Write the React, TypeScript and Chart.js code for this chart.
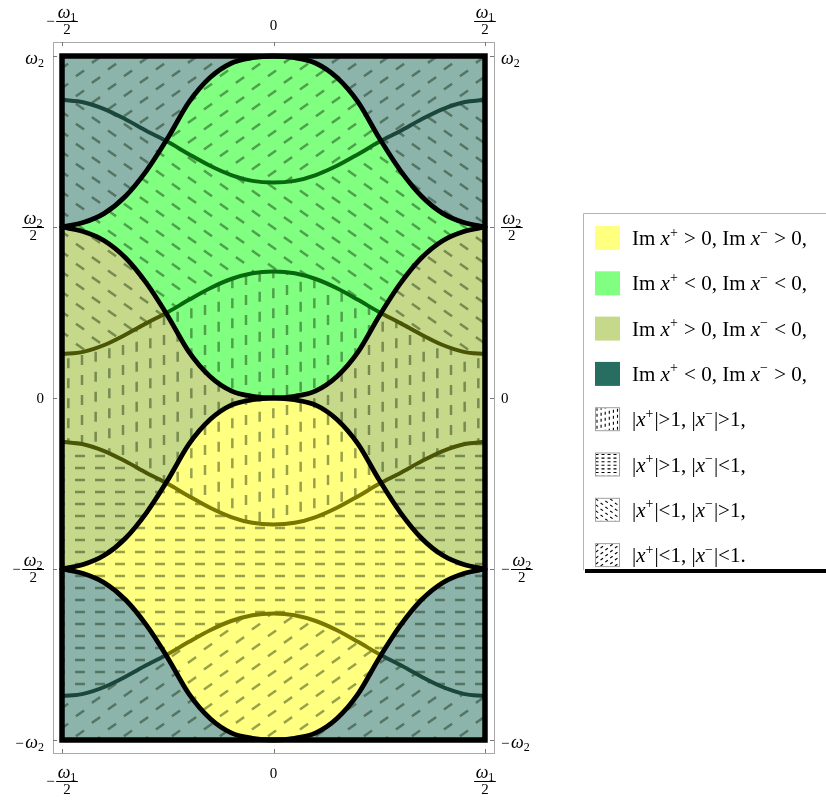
import React, { useEffect, useRef } from "react";
import { Chart, registerables } from "chart.js";

Chart.register(...registerables);

// ---- data (x in units of ω1, y in units of ω2) ----
const X_POS = [-0.5, -0.45, -0.4, -0.35, -0.3, -0.25, -0.2, -0.15, -0.1, -0.05, 0, 0.05, 0.1, 0.15, 0.2, 0.25, 0.3, 0.35, 0.4, 0.45, 0.5];

const FRAME_TOP = [1, 1, 1, 1, 1, 1, 1, 1, 1, 1, 1, 1, 1, 1, 1, 1, 1, 1, 1, 1, 1];
const FRAME_BOTTOM = [-1, -1, -1, -1, -1, -1, -1, -1, -1, -1, -1, -1, -1, -1, -1, -1, -1, -1, -1, -1, -1];

// black boundaries (Im x± = 0)
const GREEN_TOP = [0.5, 0.513, 0.54, 0.59, 0.665, 0.76, 0.865, 0.937, 0.979, 0.995, 1.0, 0.995, 0.979, 0.937, 0.865, 0.76, 0.665, 0.59, 0.54, 0.513, 0.5];
const GREEN_BOTTOM = [0.5, 0.487, 0.46, 0.41, 0.335, 0.24, 0.135, 0.063, 0.021, 0.005, 0, 0.005, 0.021, 0.063, 0.135, 0.24, 0.335, 0.41, 0.46, 0.487, 0.5];
const YELLOW_TOP = [-0.5, -0.487, -0.46, -0.41, -0.335, -0.24, -0.135, -0.063, -0.021, -0.005, 0, -0.005, -0.021, -0.063, -0.135, -0.24, -0.335, -0.41, -0.46, -0.487, -0.5];
const YELLOW_BOTTOM = [-0.5, -0.513, -0.54, -0.59, -0.665, -0.76, -0.865, -0.937, -0.979, -0.995, -1.0, -0.995, -0.979, -0.937, -0.865, -0.76, -0.665, -0.59, -0.54, -0.513, -0.5];

// dark curves (|x±| = 1)
const MOD_1 = [0.872, 0.865, 0.845, 0.815, 0.781, 0.749, 0.713, 0.679, 0.652, 0.635, 0.63, 0.635, 0.652, 0.679, 0.713, 0.749, 0.781, 0.815, 0.845, 0.865, 0.872];
const MOD_2 = [0.128, 0.135, 0.155, 0.185, 0.219, 0.251, 0.287, 0.321, 0.348, 0.365, 0.37, 0.365, 0.348, 0.321, 0.287, 0.251, 0.219, 0.185, 0.155, 0.135, 0.128];
const MOD_3 = [-0.128, -0.135, -0.155, -0.185, -0.219, -0.251, -0.287, -0.321, -0.348, -0.365, -0.37, -0.365, -0.348, -0.321, -0.287, -0.251, -0.219, -0.185, -0.155, -0.135, -0.128];
const MOD_4 = [-0.872, -0.865, -0.845, -0.815, -0.781, -0.749, -0.713, -0.679, -0.652, -0.635, -0.63, -0.635, -0.652, -0.679, -0.713, -0.749, -0.781, -0.815, -0.845, -0.865, -0.872];
const CROSS_X = 0.2525;

const X_TICKS = [-0.5, 0, 0.5];
const X_TICK_LABELS = ["−ω1/2", "0", "ω1/2"];
const Y_TICKS = [1, 0.5, 0, -0.5, -1];
const Y_TICK_LABELS = ["ω2", "ω2/2", "0", "−ω2/2", "−ω2"];

const LEGEND_COLOR_LABELS = [
  ["Im ", "x", "+", " > 0, Im ", "x", "−", " > 0,"],
  ["Im ", "x", "+", " < 0, Im ", "x", "−", " < 0,"],
  ["Im ", "x", "+", " > 0, Im ", "x", "−", " < 0,"],
  ["Im ", "x", "+", " < 0, Im ", "x", "−", " > 0,"],
];
const LEGEND_HATCH_LABELS = [
  ["|", "x", "+", "|>1, |", "x", "−", "|>1,"],
  ["|", "x", "+", "|>1, |", "x", "−", "|<1,"],
  ["|", "x", "+", "|<1, |", "x", "−", "|>1,"],
  ["|", "x", "+", "|<1, |", "x", "−", "|<1."],
];

// ---- styles ----
const C_TEAL = "#8cb4aa";
const C_GREEN = "#80ff80";
const C_OLIVE = "#c6d98a";
const C_YELLOW = "#ffff80";
const LEGEND_SWATCHES = ["#ffff80", "#80ff80", "#c6d98a", "#276e60"];
const DARK_TEAL = "#1b463c";
const DARK_GREEN = "#08680f";
const DARK_OLIVE = "#4a5606";
const DARK_YELLOW = "#7a7700";
const HATCH_COLOR = "rgba(10,30,0,0.42)";
const SERIF = '"Liberation Serif", "Times New Roman", serif';

type Kind = "up" | "down" | "vert" | "horz";
const HATCH_GEOM: Record<Kind, { ax: number; ay: number; by: number; tileW: number; dx: number; dy: number; len: number }> = {
  up: { ax: 16, ay: 6.6667, by: 20, tileW: 48, dx: 0.82, dy: -0.57, len: 10 },
  down: { ax: 16, ay: -6.6667, by: 20, tileW: 48, dx: 0.82, dy: 0.57, len: 10 },
  vert: { ax: 13.6667, ay: -3.3333, by: 20, tileW: 82, dx: 0, dy: 1, len: 10 },
  horz: { ax: 20, ay: 0, by: 12, tileW: 20, dx: 1, dy: 0, len: 10 },
};
const LEGEND_KINDS: Kind[] = ["vert", "horz", "down", "up"];

function drawLattice(ctx: CanvasRenderingContext2D, kind: Kind, x0: number, y0: number, x1: number, y1: number, s: number, ox = 0, oy = 0) {
  const g = HATCH_GEOM[kind];
  const ax = g.ax * s, ay = g.ay * s, by = g.by * s, L = g.len * s;
  const mMin = Math.floor((x0 - ox - L) / ax) - 1;
  const mMax = Math.ceil((x1 - ox + L) / ax) + 1;
  ctx.beginPath();
  for (let m = mMin; m <= mMax; m++) {
    const px = ox + m * ax;
    const baseY = oy + m * ay;
    const kMin = Math.floor((y0 - L - baseY) / by) - 1;
    const kMax = Math.ceil((y1 + L - baseY) / by) + 1;
    for (let k = kMin; k <= kMax; k++) {
      const py = baseY + k * by;
      ctx.moveTo(px - (g.dx * L) / 2, py - (g.dy * L) / 2);
      ctx.lineTo(px + (g.dx * L) / 2, py + (g.dy * L) / 2);
    }
  }
  ctx.stroke();
}

function makePattern(kind: Kind): CanvasPattern | string {
  const g = HATCH_GEOM[kind];
  const c = document.createElement("canvas");
  c.width = Math.round(g.tileW);
  c.height = Math.round(g.by);
  const ctx = c.getContext("2d");
  if (!ctx) return "rgba(0,0,0,0)";
  ctx.strokeStyle = HATCH_COLOR;
  ctx.lineWidth = 2.5;
  ctx.lineCap = "butt";
  drawLattice(ctx, kind, 0, 0, c.width, c.height, 1);
  const p = ctx.createPattern(c, "repeat");
  return p || "rgba(0,0,0,0)";
}

function drawTickLabel(ctx: CanvasRenderingContext2D, label: string, ax: number, align: "left" | "right" | "center", barY: number, plainBaseline: number) {
  const neg = label.startsWith("−");
  const body = neg ? label.slice(1) : label;
  const [num, den] = body.split("/");
  const normal = `15px ${SERIF}`;
  const parts: { t: string; font: string; dy: number }[] = [];
  if (num.startsWith("ω")) {
    parts.push({ t: "ω", font: `italic 18px ${SERIF}`, dy: 0 });
    parts.push({ t: num.slice(1), font: `12px ${SERIF}`, dy: 3 });
  } else {
    parts.push({ t: num, font: normal, dy: 0 });
  }
  let numW = 0;
  parts.forEach((p) => {
    ctx.font = p.font;
    numW += ctx.measureText(p.t).width;
  });
  ctx.font = normal;
  const denW = den ? ctx.measureText(den).width : 0;
  const fracW = den ? Math.max(numW, denW) + 3 : numW;
  const signW = neg ? ctx.measureText("−").width + 1.5 : 0;
  const total = signW + fracW;
  const xs = align === "center" ? ax - total / 2 : align === "right" ? ax - total : ax;
  ctx.fillStyle = "#000";
  ctx.textAlign = "left";
  ctx.textBaseline = "alphabetic";
  const numBase = den ? barY - 3.5 : plainBaseline;
  if (neg) {
    ctx.font = normal;
    ctx.fillText("−", xs, den ? barY + 4.5 : plainBaseline);
  }
  let cx = xs + signW + (fracW - numW) / 2;
  parts.forEach((p) => {
    ctx.font = p.font;
    ctx.fillText(p.t, cx, numBase + p.dy);
    cx += ctx.measureText(p.t).width;
  });
  if (den) {
    ctx.font = normal;
    ctx.fillText(den, xs + signW + (fracW - denW) / 2, barY + 12.5);
    ctx.strokeStyle = "#000";
    ctx.lineWidth = 1;
    ctx.beginPath();
    ctx.moveTo(xs + signW, barY + 0.5);
    ctx.lineTo(xs + signW + fracW, barY + 0.5);
    ctx.stroke();
  }
}

function drawRich(ctx: CanvasRenderingContext2D, parts: string[], x: number, baseline: number) {
  let cx = x;
  ctx.fillStyle = "#000";
  ctx.textAlign = "left";
  ctx.textBaseline = "alphabetic";
  parts.forEach((t, i) => {
    const k = i % 3;
    ctx.font = k === 1 ? `italic 21px ${SERIF}` : k === 2 ? `14px ${SERIF}` : `21px ${SERIF}`;
    ctx.fillText(t, cx, k === 2 ? baseline - 8.5 : baseline);
    cx += ctx.measureText(t).width + (k === 2 ? 1 : 0);
  });
}

const decor = {
  id: "decor",
  afterDatasetsDraw(chart: any) {
    const ctx: CanvasRenderingContext2D = chart.ctx;
    const xs = chart.scales.x;
    const ys = chart.scales.y;
    const area = chart.chartArea;
    ctx.save();
    // thick black plot border
    const l = xs.getPixelForValue(-0.5), r = xs.getPixelForValue(0.5);
    const t = ys.getPixelForValue(1), b = ys.getPixelForValue(-1);
    ctx.strokeStyle = "#000";
    ctx.lineWidth = 5.5;
    ctx.lineJoin = "miter";
    ctx.strokeRect(l, t, r - l, b - t);
    // thin frame
    ctx.strokeStyle = "#a8a8a8";
    ctx.lineWidth = 1;
    ctx.strokeRect(Math.round(area.left) + 0.5, Math.round(area.top) + 0.5, Math.round(area.right - area.left), Math.round(area.bottom - area.top));
    ctx.strokeStyle = "#777";
    ctx.beginPath();
    X_TICKS.forEach((v) => {
      const px = Math.round(xs.getPixelForValue(v)) + 0.5;
      ctx.moveTo(px, area.top);
      ctx.lineTo(px, area.top + 4);
      ctx.moveTo(px, area.bottom);
      ctx.lineTo(px, area.bottom - 4);
    });
    Y_TICKS.forEach((v) => {
      const py = Math.round(ys.getPixelForValue(v)) + 0.5;
      ctx.moveTo(area.left, py);
      ctx.lineTo(area.left + 4, py);
      ctx.moveTo(area.right, py);
      ctx.lineTo(area.right - 4, py);
    });
    ctx.stroke();
    // tick labels
    X_TICKS.forEach((v, i) => {
      const px = xs.getPixelForValue(v);
      drawTickLabel(ctx, X_TICK_LABELS[i], px, "center", area.top - 21, area.top - 12);
      drawTickLabel(ctx, X_TICK_LABELS[i], px, "center", area.bottom + 28, area.bottom + 25);
    });
    Y_TICKS.forEach((v, i) => {
      const py = ys.getPixelForValue(v);
      const lab = Y_TICK_LABELS[i];
      const plain = py + (lab.includes("ω") ? 8 : 5);
      drawTickLabel(ctx, lab, area.left - 9, "right", py, plain);
      drawTickLabel(ctx, lab, area.right + 7, "left", py, plain);
    });
    // legend
    const lx = 583.5, ltop = 213.5, lbottom = 570;
    ctx.strokeStyle = "#b4b4b4";
    ctx.lineWidth = 1;
    ctx.beginPath();
    ctx.moveTo(lx, lbottom);
    ctx.lineTo(lx, ltop);
    ctx.lineTo(826, ltop);
    ctx.stroke();
    ctx.fillStyle = "#000";
    ctx.fillRect(585, lbottom - 1, 241, 4);
    const step = 45.3;
    LEGEND_COLOR_LABELS.forEach((parts, i) => {
      const cy = 238 + i * step;
      ctx.fillStyle = LEGEND_SWATCHES[i];
      ctx.fillRect(595, cy - 12, 25, 24);
      drawRich(ctx, parts, 632, cy + 7);
    });
    LEGEND_HATCH_LABELS.forEach((parts, i) => {
      const cy = 238 + (i + 4) * step;
      const x0 = 596, y0 = cy - 11, w = 23, h = 22;
      ctx.save();
      ctx.beginPath();
      ctx.rect(x0, y0, w, h);
      ctx.clip();
      ctx.strokeStyle = "#000";
      ctx.lineWidth = 1.1;
      drawLattice(ctx, LEGEND_KINDS[i], x0, y0, x0 + w, y0 + h, 0.3, x0 + 1, y0 + 1);
      ctx.restore();
      ctx.strokeStyle = "#a0a0a0";
      ctx.lineWidth = 1;
      ctx.strokeRect(x0 - 0.5, y0 - 0.5, w + 1, h + 1);
      drawRich(ctx, parts, 632, cy + 7);
    });
    ctx.restore();
  },
};

export default function App() {
  const ref = useRef<HTMLCanvasElement>(null);
  useEffect(() => {
    const canvas = ref.current;
    if (!canvas) return;
    const pts = (ys: number[]) => X_POS.map((x, i) => ({ x, y: ys[i] }));
    const common = { pointRadius: 0, pointHoverRadius: 0, cubicInterpolationMode: "monotone" as const, borderWidth: 0, borderColor: "rgba(0,0,0,0)" };
    const segColor = (inner: string, outer: string) => (c: any) =>
      Math.abs((c.p0.parsed.x + c.p1.parsed.x) / 2) < CROSS_X ? inner : outer;
    const dark = (ys: number[], fill: number, kind: Kind, inner: string, outer: string) => ({
      ...common,
      data: pts(ys),
      fill,
      backgroundColor: makePattern(kind),
      borderWidth: 4,
      borderColor: outer,
      segment: { borderColor: segColor(inner, outer) },
      order: 30,
    });
    const black = (ys: number[]) => ({ ...common, data: pts(ys), fill: false, borderWidth: 4.8, borderColor: "#000", borderCapStyle: "round" as const, borderJoinStyle: "round" as const, order: 0 });
    const datasets: any[] = [
      { ...common, data: pts(FRAME_TOP), fill: false, order: 50 }, // 0
      { ...common, data: pts(GREEN_TOP), fill: 0, backgroundColor: C_TEAL, order: 40 }, // 1
      { ...common, data: pts(GREEN_BOTTOM), fill: 1, backgroundColor: C_GREEN, order: 40 }, // 2
      { ...common, data: pts(YELLOW_TOP), fill: 2, backgroundColor: C_OLIVE, order: 40 }, // 3
      { ...common, data: pts(YELLOW_BOTTOM), fill: 3, backgroundColor: C_YELLOW, order: 40 }, // 4
      { ...common, data: pts(FRAME_BOTTOM), fill: 4, backgroundColor: C_TEAL, order: 40 }, // 5
      dark(MOD_1, 0, "up", DARK_GREEN, DARK_TEAL), // 6
      dark(MOD_2, 6, "down", DARK_GREEN, DARK_OLIVE), // 7
      dark(MOD_3, 7, "vert", DARK_YELLOW, DARK_OLIVE), // 8
      dark(MOD_4, 8, "horz", DARK_YELLOW, DARK_TEAL), // 9
      { ...common, data: pts(FRAME_BOTTOM), fill: 9, backgroundColor: makePattern("up"), order: 30 }, // 10
      black(GREEN_TOP),
      black(GREEN_BOTTOM),
      black(YELLOW_TOP),
      black(YELLOW_BOTTOM),
    ];
    const chart = new Chart(canvas, {
      type: "line",
      data: { datasets },
      options: {
        responsive: false,
        animation: false,
        events: [],
        layout: { padding: { left: 53, top: 42, right: 332, bottom: 48 } },
        scales: {
          x: { type: "linear", min: -0.5213, max: 0.5213, display: false },
          y: { type: "linear", min: -1.038, max: 1.041, display: false },
        },
        plugins: {
          legend: { display: false },
          tooltip: { enabled: false },
          filler: { drawTime: "beforeDatasetsDraw", propagate: false },
        },
      } as any,
      plugins: [decor as any],
    });
    return () => chart.destroy();
  }, []);
  return (
    <div style={{ position: "absolute", left: 0, top: 0, width: 826, height: 801, background: "#fff" }}>
      <canvas ref={ref} width={826} height={801} style={{ display: "block", width: 826, height: 801 }} />
    </div>
  );
}
